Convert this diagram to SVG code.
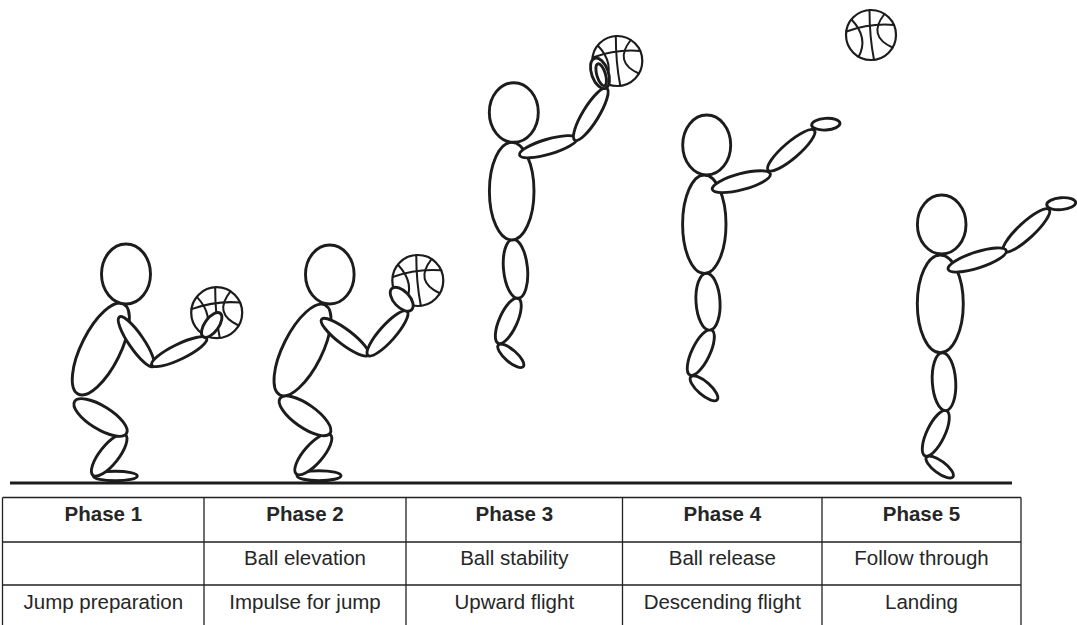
<svg xmlns="http://www.w3.org/2000/svg" xmlns:xlink="http://www.w3.org/1999/xlink" width="1077" height="625" viewBox="0 0 1077 625">
  <style>
    .p { fill: #fff; stroke: #1c1c1c; stroke-width: 2.9; }
    .ball-o { fill: #fff; stroke: #1c1c1c; stroke-width: 2.2; }
    .seam { fill: none; stroke: #1c1c1c; stroke-width: 2; stroke-linecap: round; }
    .ground { stroke: #1c1c1c; stroke-width: 3; }
    .grid { stroke: #222; stroke-width: 1.3; fill: none; }
    .hd { font-family: "Liberation Sans", Arial, sans-serif; font-size: 20.5px; font-weight: bold; fill: #262626; text-anchor: middle; }
    .td { font-family: "Liberation Sans", Arial, sans-serif; font-size: 20.5px; fill: #262626; text-anchor: middle; }
  </style>
  <defs>
    <!-- basketball, centred on the origin, radius 25 -->
    <g id="ball">
      <circle class="ball-o" cx="0" cy="0" r="25"/>
      <path class="seam" d="M -1.5,-25 Q -1.5,2 3,24.8"/>
      <path class="seam" d="M -24.6,-3.5 Q -1,-12 23,-10"/>
      <path class="seam" d="M -19.5,-15.5 Q -2,3 -12.5,22"/>
      <path class="seam" d="M 13.5,-21 Q -4,1 21.5,12.5"/>
    </g>
  </defs>

  <rect x="0" y="0" width="1077" height="625" fill="#fff"/>

  <!-- floor -->
  <line class="ground" x1="10" y1="483" x2="1012" y2="483"/>

  <!-- phase 1: crouch, ball at chest -->
  <g id="figure1">
    <ellipse class="p" cx="115.3" cy="476" rx="22" ry="4.8"/>
    <ellipse class="p" rx="26" ry="9.5" transform="translate(109.2,455) rotate(-51.6)"/>
    <ellipse class="p" rx="30.5" ry="11.5" transform="translate(100.5,417.5) rotate(31.8)"/>
    <ellipse class="p" rx="50.5" ry="19.5" transform="translate(100.8,349) rotate(-63.4)"/>
    <ellipse class="p" cx="126" cy="274" rx="24.5" ry="30"/>
    <ellipse class="p" rx="30" ry="7.5" transform="translate(136.3,341.7) rotate(55.6)"/>
    <ellipse class="p" rx="30.5" ry="7.5" transform="translate(179.2,351.7) rotate(-25.9)"/>
    <use xlink:href="#ball" transform="translate(216.7,312.7) scale(1.02)"/>
    <ellipse class="p" rx="14.5" ry="7" transform="translate(211.7,325) rotate(-54)"/>
  </g>

  <!-- phase 2: crouch, ball raised -->
  <g id="figure2">
    <ellipse class="p" cx="319" cy="475.7" rx="22" ry="5"/>
    <ellipse class="p" rx="26" ry="9.5" transform="translate(313.3,454.2) rotate(-49)"/>
    <ellipse class="p" rx="30.5" ry="11.5" transform="translate(305,415.8) rotate(35)"/>
    <ellipse class="p" rx="50.3" ry="19.5" transform="translate(302.5,350) rotate(-63.4)"/>
    <ellipse class="p" cx="329.8" cy="274.5" rx="24.3" ry="29.5"/>
    <ellipse class="p" rx="29.5" ry="7.5" transform="translate(345,337.2) rotate(37.4)"/>
    <ellipse class="p" rx="29.5" ry="8" transform="translate(387.5,333.3) rotate(-48.4)"/>
    <use xlink:href="#ball" transform="translate(417.8,280.5) scale(1.02)"/>
    <ellipse class="p" rx="14.5" ry="8" transform="translate(401.7,299.2) rotate(47.3)"/>
  </g>

  <!-- phase 3: rising, ball overhead -->
  <g id="figure3">
    <ellipse class="p" rx="16.5" ry="6" transform="translate(510.8,355.8) rotate(41)"/>
    <ellipse class="p" rx="24.6" ry="9" transform="translate(508.3,320.8) rotate(-66)"/>
    <ellipse class="p" rx="12" ry="29.6" transform="translate(515.5,268.8) rotate(-5.4)"/>
    <ellipse class="p" cx="511.7" cy="191.2" rx="22.3" ry="48.8"/>
    <ellipse class="p" cx="513.8" cy="112.5" rx="24.5" ry="29.8"/>
    <ellipse class="p" rx="30" ry="7.5" transform="translate(548.3,146.7) rotate(-16.4)"/>
    <ellipse class="p" rx="30.5" ry="8" transform="translate(590.8,114.2) rotate(-58.5)"/>
    <use xlink:href="#ball" transform="translate(617.3,61)"/>
    <ellipse class="p" rx="16" ry="8.3" transform="translate(600,73.3) rotate(70)"/>
    <ellipse class="p" rx="11.5" ry="4.3" transform="translate(601.2,74.8) rotate(73)"/>
  </g>

  <!-- phase 4: release, ball in flight -->
  <g id="figure4">
    <ellipse class="p" rx="17.5" ry="6.5" transform="translate(704,388.3) rotate(41.2)"/>
    <ellipse class="p" rx="25" ry="9" transform="translate(700.8,352.5) rotate(-64.3)"/>
    <ellipse class="p" rx="12" ry="28.5" transform="translate(708,301.7) rotate(-3.5)"/>
    <ellipse class="p" cx="704.3" cy="224.2" rx="21.7" ry="49.2"/>
    <ellipse class="p" cx="706.7" cy="145" rx="24" ry="30"/>
    <ellipse class="p" rx="30.5" ry="8" transform="translate(791.2,150.3) rotate(-40.7)"/>
    <ellipse class="p" rx="30" ry="8" transform="translate(741.3,181.7) rotate(-15)"/>
    <ellipse class="p" rx="14.2" ry="5.8" transform="translate(825.8,124.2) rotate(-4)"/>
    <use xlink:href="#ball" transform="translate(871,35)"/>
  </g>

  <!-- phase 5: landing, follow through -->
  <g id="figure5">
    <ellipse class="p" rx="16.5" ry="6" transform="translate(939.7,467) rotate(36.7)"/>
    <ellipse class="p" rx="25" ry="9" transform="translate(935.8,433.3) rotate(-64.4)"/>
    <ellipse class="p" rx="11.7" ry="29" transform="translate(944,381.7) rotate(-3.5)"/>
    <ellipse class="p" cx="940.3" cy="303.8" rx="23" ry="48.8"/>
    <ellipse class="p" cx="941.7" cy="224.5" rx="24.3" ry="29.5"/>
    <ellipse class="p" rx="31" ry="8" transform="translate(1026.3,230.5) rotate(-42.7)"/>
    <ellipse class="p" rx="30.5" ry="8" transform="translate(977.2,260) rotate(-17.9)"/>
    <ellipse class="p" rx="14.5" ry="6" transform="translate(1061.2,203.7) rotate(-5)"/>
  </g>

  <!-- phase table -->
  <g id="table">
    <path class="grid" d="M 2.5,497.5 H 1021 M 2.5,542 H 1021 M 2.5,585 H 1021
                          M 2.5,497.5 V 625 M 204,497.5 V 625 M 406,497.5 V 625
                          M 622.5,497.5 V 625 M 822,497.5 V 625 M 1021,497.5 V 625"/>
    <text class="hd" x="103.3" y="521">Phase 1</text>
    <text class="hd" x="305" y="521">Phase 2</text>
    <text class="hd" x="514.3" y="521">Phase 3</text>
    <text class="hd" x="722.3" y="521">Phase 4</text>
    <text class="hd" x="921.5" y="521">Phase 5</text>
    <text class="td" x="305" y="565">Ball elevation</text>
    <text class="td" x="514.3" y="565">Ball stability</text>
    <text class="td" x="722.3" y="565">Ball release</text>
    <text class="td" x="921.5" y="565">Follow through</text>
    <text class="td" x="103.3" y="608.5">Jump preparation</text>
    <text class="td" x="305" y="608.5">Impulse for jump</text>
    <text class="td" x="514.3" y="608.5">Upward flight</text>
    <text class="td" x="722.3" y="608.5">Descending flight</text>
    <text class="td" x="921.5" y="608.5">Landing</text>
  </g>
</svg>
